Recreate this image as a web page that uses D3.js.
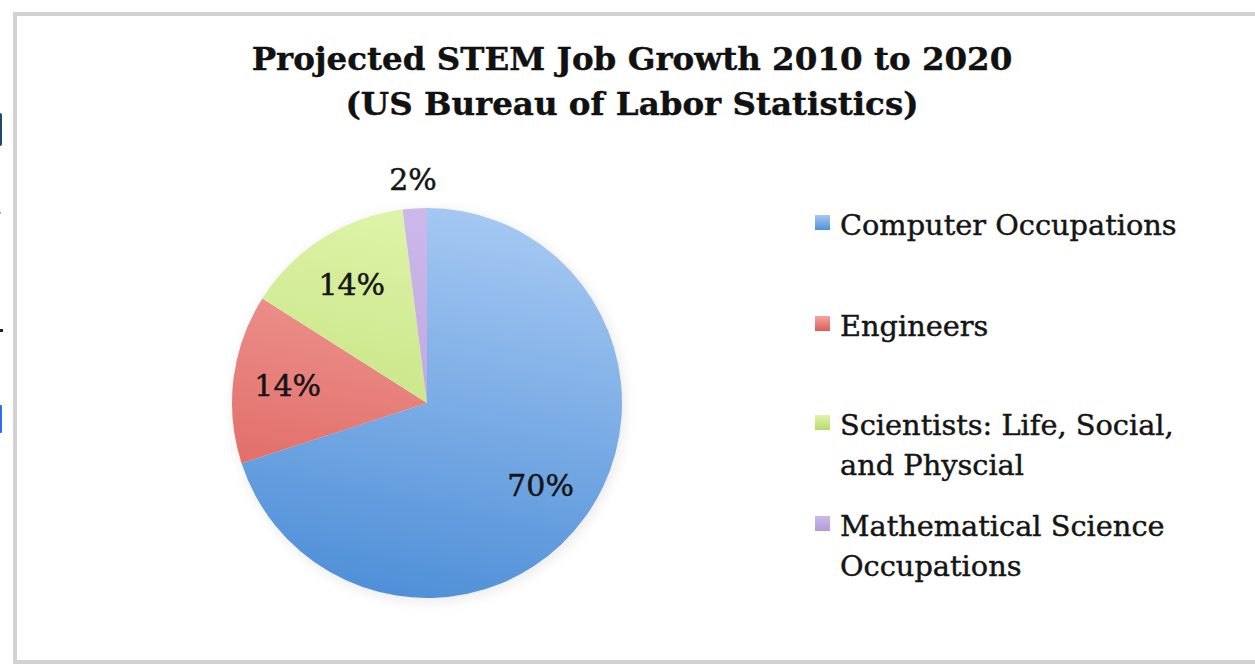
<!DOCTYPE html>
<html>
<head>
<meta charset="utf-8">
<script src="https://cdn.jsdelivr.net/npm/d3@7"></script>
<style>
  html, body { margin: 0; padding: 0; background: #ffffff; }
  svg { display: block; }
</style>
</head>
<body>
<svg id="chart" width="1255" height="664"></svg>
<script>
// Projected STEM job growth shares, 2010–2020
const categories = [
  "Computer Occupations",
  "Engineers",
  "Scientists: Life, Social, and Physcial",
  "Mathematical Science Occupations"
];
const shares = [70, 14, 14, 2];
const legendLines = [
  ["Computer Occupations"],
  ["Engineers"],
  ["Scientists: Life, Social,", "and Physcial"],
  ["Mathematical Science", "Occupations"]
];
const titleLines = ["Projected STEM Job Growth 2010 to 2020", "(US Bureau of Labor Statistics)"];

// light / dark stops of each slice gradient
const lightColors = ["#a6c9f3", "#f3a6a2", "#e0f5ab", "#cdb9ea"];
const darkColors  = ["#5090d8", "#dc5c57", "#b8d96d", "#b39ad9"];

const W = 1255, H = 664;
const svg = d3.select("#chart");
const serif = "'DejaVu Serif', 'Liberation Serif', serif";
const ink = "#151515";

// page fragments at the far left edge
const edge = svg.append("g").attr("class", "edge-fragments");
edge.append("rect").attr("x", -3).attr("y", 113).attr("width", 5).attr("height", 33).attr("rx", 2).attr("fill", "#24466b");
edge.append("rect").attr("x", 0).attr("y", 329).attr("width", 3).attr("height", 3).attr("fill", "#222");
edge.append("rect").attr("x", -2).attr("y", 405).attr("width", 4).attr("height", 28).attr("rx", 1).attr("fill", "#2f6df2");
edge.append("rect").attr("x", 0).attr("y", 212).attr("width", 1).attr("height", 2).attr("fill", "#9aa8f0");

// chart frame
svg.append("rect")
  .attr("x", 15).attr("y", 14)
  .attr("width", W + 10).attr("height", 648)
  .attr("fill", "#ffffff")
  .attr("stroke", "#d2d2d2")
  .attr("stroke-width", 4);

// title
const title = svg.append("text")
  .attr("text-anchor", "middle")
  .attr("font-family", serif)
  .attr("font-weight", "bold")
  .attr("font-size", 32.5)
  .attr("fill", "#111")
  .attr("stroke", "#111")
  .attr("stroke-width", 0.4);
title.selectAll("tspan").data(titleLines).join("tspan")
  .attr("x", 632)
  .attr("y", (d, i) => 70 + i * 45)
  .text(d => d);

// pie
const cx = 427, cy = 403, R = 195;
const pie = d3.pie().sort(null).value(d => d);
const arcs = pie(shares);
const arc = d3.arc().innerRadius(0).outerRadius(R);
const labelArc = d3.arc().innerRadius(R * 0.72).outerRadius(R * 0.72);
const outerLabelArc = d3.arc().innerRadius(R + 29).outerRadius(R + 29);

const defs = svg.append("defs");
// slice gradients, expressed in the pie group's coordinates
const grads = defs.selectAll("linearGradient.slice").data(categories).join("linearGradient")
  .attr("class", "slice")
  .attr("id", (d, i) => "slice-grad-" + i)
  .attr("gradientUnits", "userSpaceOnUse")
  .attr("x1", R * 0.3).attr("y1", -R)
  .attr("x2", -R * 0.1).attr("y2", R);
grads.append("stop").attr("offset", "0%").attr("stop-color", (d, i) => lightColors[i]);
grads.append("stop").attr("offset", "100%").attr("stop-color", (d, i) => darkColors[i]);

const blur = defs.append("filter").attr("id", "pie-shadow")
  .attr("x", "-20%").attr("y", "-20%").attr("width", "140%").attr("height", "140%");
blur.append("feGaussianBlur").attr("stdDeviation", 6);

const pieG = svg.append("g").attr("transform", `translate(${cx},${cy})`);
pieG.append("circle").attr("r", R + 2).attr("cx", 2).attr("cy", 3)
  .attr("fill", "#000").attr("opacity", 0.07).attr("filter", "url(#pie-shadow)");
pieG.selectAll("path.slice").data(arcs).join("path")
  .attr("class", "slice")
  .attr("d", arc)
  .attr("fill", (d, i) => `url(#slice-grad-${i})`);

// value labels; the thin slice gets its label outside the rim
pieG.selectAll("text.value").data(arcs).join("text")
  .attr("class", "value")
  .attr("transform", d => {
    const c = (d.endAngle - d.startAngle) < 0.2 ? outerLabelArc.centroid(d) : labelArc.centroid(d);
    return `translate(${c[0]},${c[1]})`;
  })
  .attr("dy", "0.36em")
  .attr("text-anchor", "middle")
  .attr("font-family", serif)
  .attr("font-size", 30)
  .attr("fill", ink)
  .attr("stroke", ink)
  .attr("stroke-width", 0.5)
  .text(d => d.data + "%");

// legend
const legendX = 814;
const legendRowY = [235, 336, 435, 536];
const lg = defs.selectAll("linearGradient.legend").data(categories).join("linearGradient")
  .attr("class", "legend")
  .attr("id", (d, i) => "legend-grad-" + i)
  .attr("x1", 0).attr("y1", 0).attr("x2", 0).attr("y2", 1);
lg.append("stop").attr("offset", "0%").attr("stop-color", (d, i) => lightColors[i]);
lg.append("stop").attr("offset", "100%").attr("stop-color", (d, i) => darkColors[i]);

const legend = svg.append("g");
const items = legend.selectAll("g").data(categories).join("g")
  .attr("transform", (d, i) => `translate(${legendX},${legendRowY[i]})`);
items.append("rect")
  .attr("x", 1).attr("y", -20).attr("width", 15).attr("height", 15)
  .attr("fill", (d, i) => `url(#legend-grad-${i})`);
items.append("text")
  .attr("font-family", serif)
  .attr("font-size", 28.8)
  .attr("fill", ink)
  .attr("stroke", ink)
  .attr("stroke-width", 0.45)
  .selectAll("tspan").data((d, i) => legendLines[i]).join("tspan")
  .attr("x", 26)
  .attr("y", (d, j) => j * 40)
  .text(d => d);
</script>
</body>
</html>
